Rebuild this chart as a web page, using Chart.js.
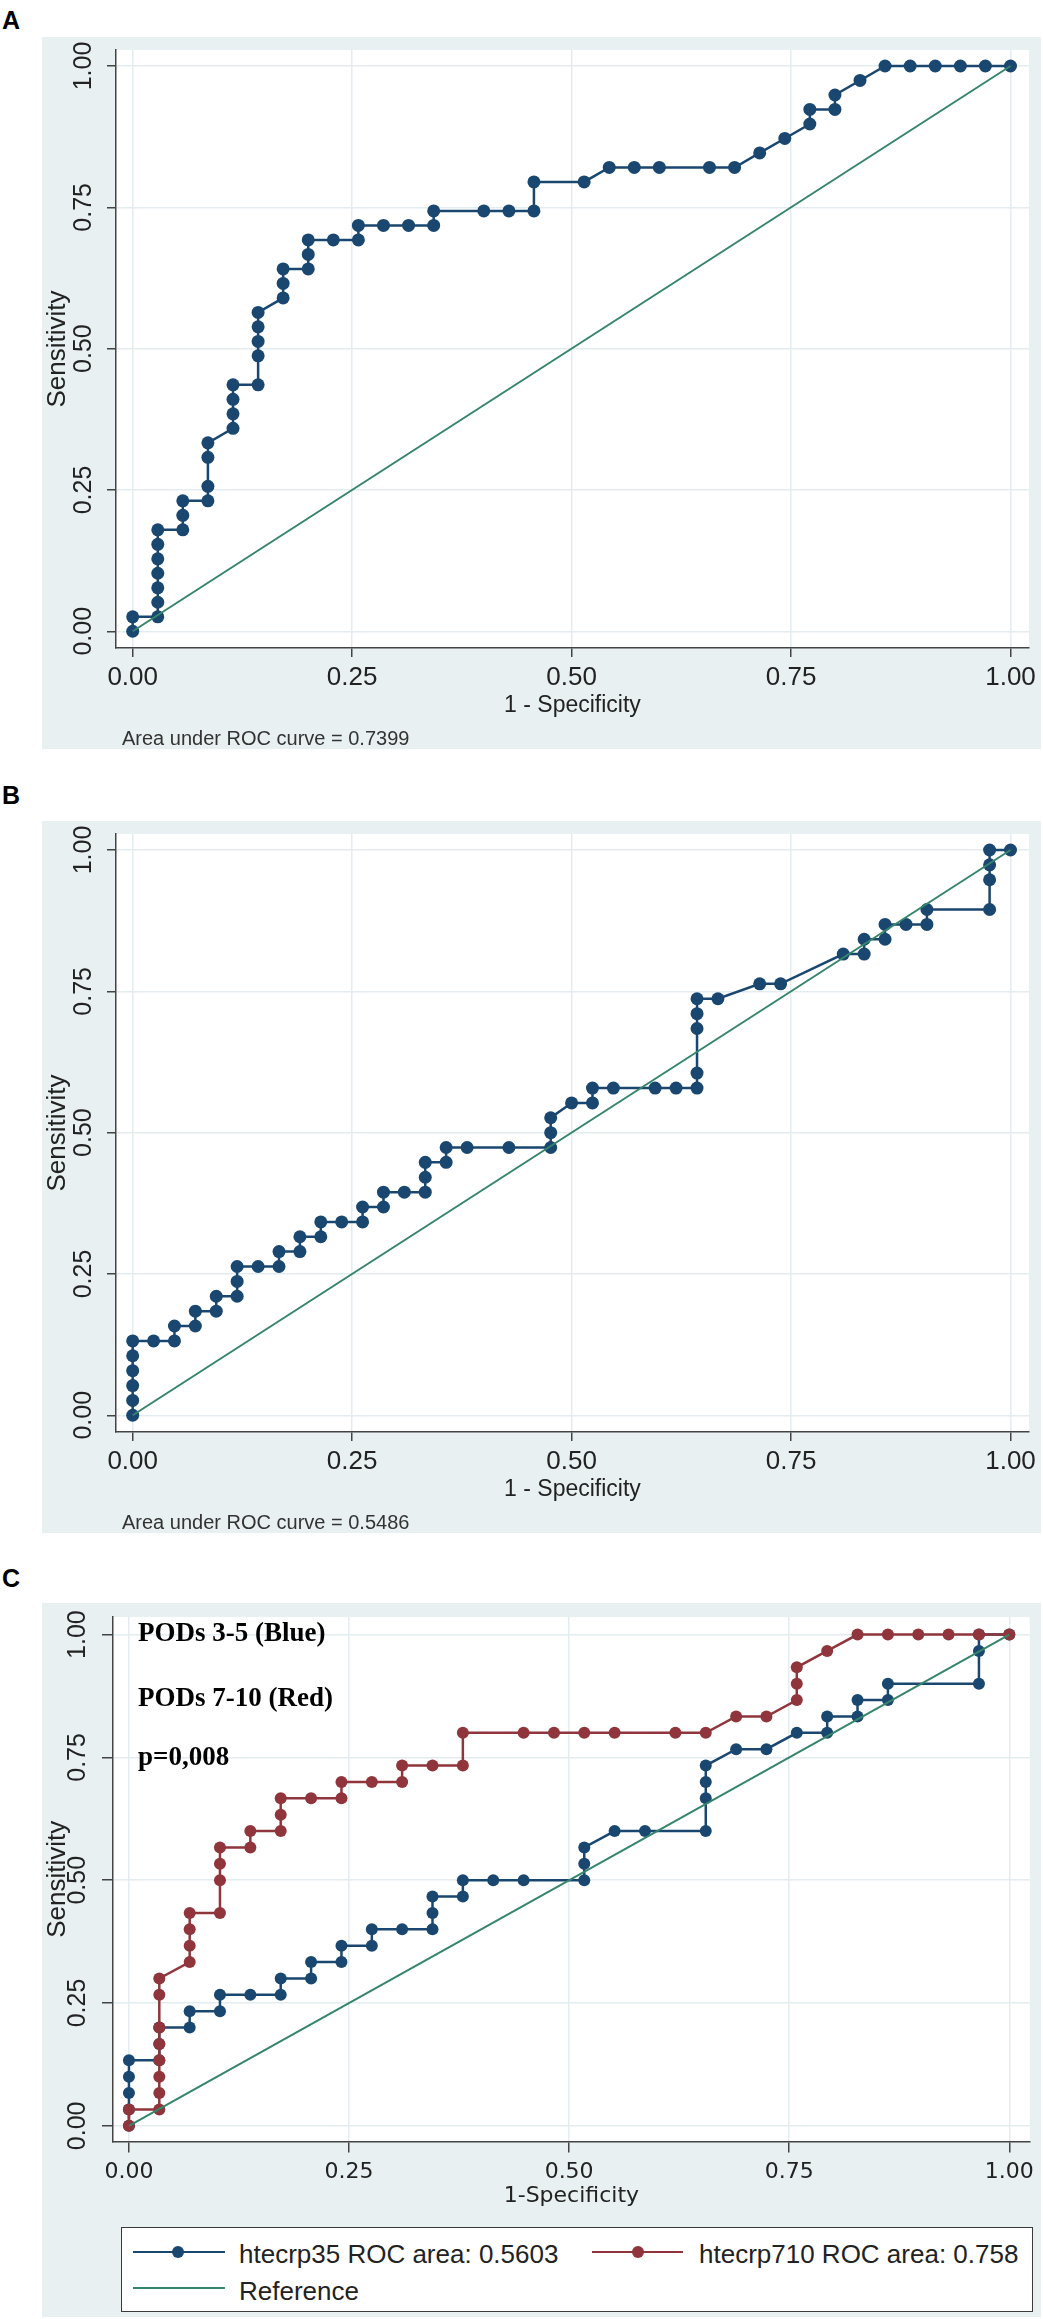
<!DOCTYPE html>
<html>
<head>
<meta charset="utf-8">
<script src="https://cdn.jsdelivr.net/npm/chart.js@4.4.0/dist/chart.umd.min.js"></script>
<style>
  body { margin: 0; width: 1043px; height: 2319px; position: relative; background: #fff; overflow: hidden; }
  .panel { position: absolute; left: 42px; width: 999px; background: #e8f0f2; }
  .panel canvas { position: absolute; left: 0; top: 0; }
  .txt { position: absolute; white-space: nowrap; line-height: 1; color: #222; }
  .letter { font: bold 25px "Liberation Sans", Arial, sans-serif; color: #000; left: 2px; }
  .auc { font: 20px "Liberation Sans", Arial, sans-serif; color: #333; left: 122px; }
  .pods { font: bold 27px "Liberation Serif", "Times New Roman", serif; color: #000; left: 138px; }
  #legend { position: absolute; left: 121px; top: 2227px; width: 912px; height: 85px; box-sizing: border-box;
            border: 1.5px solid #3a3a3a; background: #fff; }
  .lg-line { position: absolute; height: 2px; }
  .lg-dot { position: absolute; width: 12px; height: 12px; border-radius: 50%; }
  .lg-txt { font: 26px "Liberation Sans", Arial, sans-serif; color: #222; }
</style>
</head>
<body>

<div class="txt letter" style="top:6px">A</div>
<div class="panel" style="top:37px;height:712px"><canvas id="chartA" width="999" height="712"></canvas></div>
<div class="txt auc" style="top:727px">Area under ROC curve = 0.7399</div>

<div class="txt letter" style="top:781px">B</div>
<div class="panel" style="top:821px;height:712px"><canvas id="chartB" width="999" height="712"></canvas></div>
<div class="txt auc" style="top:1511px">Area under ROC curve = 0.5486</div>

<div class="txt letter" style="top:1564px">C</div>
<div class="panel" style="top:1603px;height:714px"><canvas id="chartC" width="999" height="714"></canvas></div>
<div class="txt pods" style="top:1617px">PODs 3-5 (Blue)</div>
<div class="txt pods" style="top:1682px">PODs 7-10 (Red)</div>
<div class="txt pods" style="top:1741px">p=0,008</div>

<div id="legend">
  <div class="lg-line" style="left:11px;top:23px;width:92px;background:#1a476f"></div>
  <div class="lg-dot" style="left:50px;top:18px;background:#1a476f"></div>
  <div class="txt lg-txt" style="left:117px;top:11px">htecrp35 ROC area: 0.5603</div>
  <div class="lg-line" style="left:470px;top:23px;width:91px;background:#90353b"></div>
  <div class="lg-dot" style="left:510px;top:18px;background:#90353b"></div>
  <div class="txt lg-txt" style="left:577px;top:11px">htecrp710 ROC area: 0.758</div>
  <div class="lg-line" style="left:11px;top:59px;width:92px;background:#35856b"></div>
  <div class="txt lg-txt" style="left:117px;top:48px">Reference</div>
</div>

<script>
// axis ticks shared by all three panels
const tickValues = [0, 0.25, 0.5, 0.75, 1];
const tickLabels = ['0.00', '0.25', '0.50', '0.75', '1.00'];

// reference diagonal
const refX = [0, 1];
const refY = [0, 1];

// panel A
const aFpr = [0,0,0.0286,0.0286,0.0286,0.0286,0.0286,0.0286,0.0286,0.0571,0.0571,0.0571,
  0.0857,0.0857,0.0857,0.0857,0.1143,0.1143,0.1143,0.1143,0.1429,0.1429,0.1429,0.1429,0.1429,
  0.1714,0.1714,0.1714,0.2,0.2,0.2,0.2286,0.2571,0.2571,0.2857,0.3143,0.3429,0.3429,0.4,0.4286,
  0.4571,0.4571,0.5143,0.5429,0.5714,0.6,0.6571,0.6857,0.7143,0.7429,0.7714,0.7714,0.8,0.8,
  0.8286,0.8571,0.8857,0.9143,0.9429,0.9714,1];
const aSens = [0,0.0256,0.0256,0.0513,0.0769,0.1026,0.1282,0.1538,0.1795,0.1795,0.2051,0.2308,
  0.2308,0.2564,0.3077,0.3333,0.359,0.3846,0.4103,0.4359,0.4359,0.4872,0.5128,0.5385,0.5641,
  0.5897,0.6154,0.641,0.641,0.6667,0.6923,0.6923,0.6923,0.7179,0.7179,0.7179,0.7179,0.7436,0.7436,0.7436,
  0.7436,0.7949,0.7949,0.8205,0.8205,0.8205,0.8205,0.8205,0.8462,0.8718,0.8974,0.9231,0.9231,0.9487,
  0.9744,1,1,1,1,1,1];

// panel B
const bFpr = [0,0,0,0,0,0,0.0238,0.0476,0.0476,0.0714,0.0714,0.0952,0.0952,0.119,0.119,0.119,
  0.1429,0.1667,0.1667,0.1905,0.1905,0.2143,0.2143,0.2381,0.2619,0.2619,0.2857,0.2857,0.3095,
  0.3333,0.3333,0.3333,0.3571,0.3571,0.381,0.4286,0.4762,0.4762,0.4762,0.5,0.5238,0.5238,0.5476,
  0.5952,0.619,0.6429,0.6429,0.6429,0.6429,0.6429,0.6667,0.7143,0.7381,0.8095,0.8333,0.8333,
  0.8571,0.8571,0.881,0.9048,0.9048,0.9762,0.9762,0.9762,0.9762,1];
const bSens = [0,0.0263,0.0526,0.0789,0.1053,0.1316,0.1316,0.1316,0.1579,0.1579,0.1842,0.1842,0.2105,
  0.2105,0.2368,0.2632,0.2632,0.2632,0.2895,0.2895,0.3158,0.3158,0.3421,0.3421,0.3421,0.3684,
  0.3684,0.3947,0.3947,0.3947,0.4211,0.4474,0.4474,0.4737,0.4737,0.4737,0.4737,0.5,0.5263,0.5526,
  0.5526,0.5789,0.5789,0.5789,0.5789,0.5789,0.6053,0.6842,0.7105,0.7368,0.7368,0.7632,0.7632,
  0.8158,0.8158,0.8421,0.8421,0.8684,0.8684,0.8684,0.8947,0.8947,0.9474,0.9737,1,1];

// panel C, PODs 3-5
const c35Fpr = [0,0,0,0,0,0.0345,0.0345,0.0345,0.069,0.069,0.1034,0.1034,0.1379,0.1724,0.1724,
  0.2069,0.2069,0.2414,0.2414,0.2759,0.2759,0.3103,0.3448,0.3448,0.3448,0.3793,0.3793,0.4138,
  0.4483,0.5172,0.5172,0.5172,0.5517,0.5862,0.6552,0.6552,0.6552,0.6552,0.6897,0.7241,0.7586,
  0.7931,0.7931,0.8276,0.8276,0.8621,0.8621,0.9655,0.9655,0.9655,1];
const c35Sens = [0,0.0333,0.0667,0.1,0.1333,0.1333,0.1667,0.2,0.2,0.2333,0.2333,0.2667,0.2667,
  0.2667,0.3,0.3,0.3333,0.3333,0.3667,0.3667,0.4,0.4,0.4,0.4333,0.4667,0.4667,0.5,0.5,0.5,0.5,
  0.5333,0.5667,0.6,0.6,0.6,0.6667,0.7,0.7333,0.7667,0.7667,0.8,0.8,0.8333,0.8333,0.8667,0.8667,
  0.9,0.9,0.9667,1,1];

// panel C, PODs 7-10
const c710Fpr = [0,0,0.0345,0.0345,0.0345,0.0345,0.0345,0.0345,0.0345,0.0345,0.069,0.069,0.069,
  0.069,0.1034,0.1034,0.1034,0.1034,0.1379,0.1379,0.1724,0.1724,0.1724,0.2069,0.2414,0.2414,
  0.2759,0.3103,0.3103,0.3448,0.3793,0.3793,0.4483,0.4828,0.5172,0.5517,0.6207,0.6552,0.6897,
  0.7241,0.7586,0.7586,0.7586,0.7931,0.8276,0.8621,0.8966,0.931,0.9655,1];
const c710Sens = [0,0.0333,0.0333,0.0667,0.1,0.1333,0.1667,0.2,0.2667,0.3,0.3333,0.3667,0.4,
  0.4333,0.4333,0.5,0.5333,0.5667,0.5667,0.6,0.6,0.6333,0.6667,0.6667,0.6667,0.7,0.7,0.7,0.7333,
  0.7333,0.7333,0.8,0.8,0.8,0.8,0.8,0.8,0.8,0.8333,0.8333,0.8667,0.9,0.9333,0.9667,1,1,1,1,1,1];

const navy = '#1a476f';
const maroon = '#90353b';
const green = '#35856b';
const gridColor = '#e3ecef';
const axisColor = '#444';
const textColor = '#222';

function pts(xs, ys) {
  return xs.map(function (x, i) { return {x: x, y: ys[i]}; });
}

function rocSet(xs, ys, color, r, order) {
  return {
    data: pts(xs, ys), borderColor: color, backgroundColor: color, borderWidth: 2.5,
    pointRadius: r, pointBorderWidth: 0, pointBackgroundColor: color, tension: 0, order: order
  };
}

function refSet(order) {
  return {data: pts(refX, refY), borderColor: green, borderWidth: 2, pointRadius: 0, tension: 0, order: order};
}

// white plot region
const plotBg = {
  id: 'plotBg',
  beforeDraw(chart) {
    const a = chart.chartArea, ctx = chart.ctx;
    ctx.save();
    ctx.fillStyle = '#fff';
    ctx.fillRect(a.left, a.top, a.right - a.left, a.bottom - a.top);
    ctx.restore();
  }
};

// y tick labels are drawn turned, reading upwards
const rotTicks = {
  id: 'rotTicks',
  afterDraw(chart, args, opts) {
    const y = chart.scales.y, ctx = chart.ctx;
    ctx.save();
    ctx.font = opts.font;
    ctx.fillStyle = textColor;
    ctx.textAlign = 'center';
    ctx.textBaseline = 'middle';
    y.ticks.forEach(function (t, i) {
      ctx.save();
      ctx.translate(chart.chartArea.left - opts.offset, y.getPixelForValue(t.value));
      ctx.rotate(-Math.PI / 2);
      ctx.fillText(tickLabels[i], 0, 0);
      ctx.restore();
    });
    ctx.restore();
  }
};

function makeRoc(id, datasets, c) {
  return new Chart(document.getElementById(id), {
    type: 'line',
    data: {datasets: datasets},
    plugins: [plotBg, rotTicks],
    options: {
      responsive: false,
      animation: false,
      layout: {padding: {top: c.padTop, right: c.padRight, bottom: c.padBottom, left: 0}},
      plugins: {
        legend: {display: false},
        tooltip: {enabled: false},
        rotTicks: {font: '25px "Liberation Sans", Arial, sans-serif', offset: c.yLabelOff}
      },
      scales: {
        x: {
          type: 'linear', min: c.xMin, max: c.xMax,
          afterBuildTicks: function (s) { s.ticks = tickValues.map(function (v) { return {value: v}; }); },
          afterFit: function (s) { s.height = c.xH; },
          grid: {color: gridColor, lineWidth: 1.5, tickLength: c.tickLen, tickColor: axisColor, tickWidth: 1.5},
          border: {color: axisColor, width: 1.5},
          ticks: {
            font: c.xTickFont, color: textColor, padding: c.xTickPad, maxRotation: 0, autoSkip: false,
            callback: function (v, i) { return tickLabels[i]; }
          },
          title: {display: true, text: c.xTitle, font: c.xTitleFont, color: textColor, padding: 0}
        },
        y: {
          type: 'linear', min: c.yMin, max: c.yMax,
          afterBuildTicks: function (s) { s.ticks = tickValues.map(function (v) { return {value: v}; }); },
          afterFit: function (s) { s.width = c.yW; },
          grid: {color: gridColor, lineWidth: 1.5, tickLength: c.tickLen, tickColor: axisColor, tickWidth: 1.5},
          border: {color: axisColor, width: 1.5},
          ticks: {display: false},
          title: {display: true, text: 'Sensitivity', font: {family: '"Liberation Sans", Arial, sans-serif', size: 26}, color: textColor, padding: 0}
        }
      }
    }
  });
}

const abCfg = {
  padTop: 13, padRight: 10, padBottom: 30, yW: 74, xH: 71,
  xMin: -0.019, xMax: 1.021, yMin: -0.0296, yMax: 1.0283,
  tickLen: 9, yLabelOff: 32, xTickPad: 5,
  xTickFont: {family: '"Liberation Sans", Arial, sans-serif', size: 26},
  xTitle: '1 - Specificity',
  xTitleFont: {family: '"Liberation Sans", Arial, sans-serif', size: 23}
};

makeRoc('chartA', [refSet(0), rocSet(aFpr, aSens, navy, 6.5, 1)], abCfg);
makeRoc('chartB', [refSet(0), rocSet(bFpr, bSens, navy, 6.5, 1)], abCfg);

makeRoc('chartC', [refSet(0), rocSet(c710Fpr, c710Sens, maroon, 6, 1), rocSet(c35Fpr, c35Sens, navy, 6, 2)], {
  padTop: 14, padRight: 8.5, padBottom: 107.5, yW: 71, xH: 68,
  xMin: -0.0181, xMax: 1.0232, yMin: -0.0319, yMax: 1.0358,
  tickLen: 11, yLabelOff: 35, xTickPad: 7,
  xTickFont: {family: '"DejaVu Sans", sans-serif', size: 22},
  xTitle: '1-Specificity',
  xTitleFont: {family: '"DejaVu Sans", sans-serif', size: 22}
});
</script>
</body>
</html>
